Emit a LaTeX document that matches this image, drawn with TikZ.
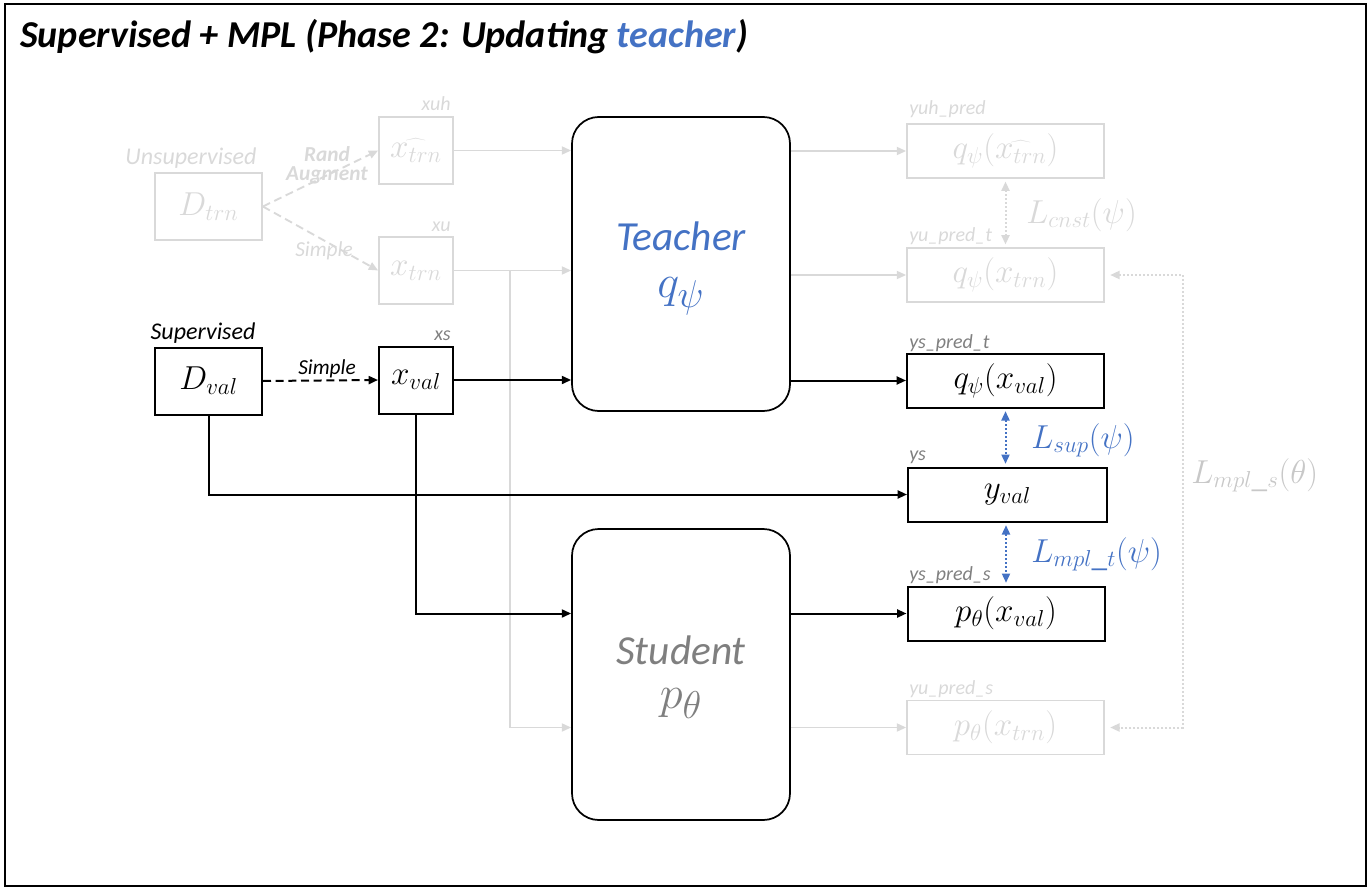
\documentclass[tikz,border=0pt]{standalone}
\usepackage{graphicx}
\usepackage[no-math]{fontspec}
\setmainfont{Carlito}
\usetikzlibrary{arrows.meta}
\definecolor{lg}{HTML}{D9D9D9}
\definecolor{mg}{HTML}{808080}
\definecolor{bl}{HTML}{4472C4}
\definecolor{lossg}{HTML}{C8C8C8}
\definecolor{stg}{HTML}{7F7F7F}
\begin{document}
\begin{tikzpicture}[x=0.75pt,y=-0.75pt,
  tip/.tip={Triangle[length=7pt,width=6pt]},
  mfont/.style={font=\fontsize{23.5}{28}\selectfont},
  gbox/.style={draw=lg, line width=1.3pt, text=lg, mfont, inner sep=0pt},
  bbox/.style={draw=black, line width=1.5pt, text=black, mfont, inner sep=0pt},
  dsz/.style={minimum width=80.25pt, minimum height=50.25pt},
  xsz/.style={minimum width=55.5pt, minimum height=50.25pt},
  rsz/.style={minimum width=147.75pt, minimum height=40.5pt},
  model/.style={draw=black, line width=1.3pt, rounded corners=20pt, minimum width=163.5pt, inner sep=0pt},
  mname/.style={anchor=base, inner sep=0pt, font=\fontsize{31}{36}\selectfont\itshape},
  msym/.style={anchor=base, inner sep=0pt, font=\fontsize{24.88}{30}\selectfont},
  garrow/.style={draw=lg, line width=1.4pt, -tip},
  barrow/.style={draw=black, line width=1.5pt, -tip},
  dotarrow/.style={line width=1.5pt, dash pattern=on 1.5pt off 1.5pt, tip-tip, shorten <=2pt, shorten >=2pt},
  smalllab/.style={font=\fontsize{15}{18}\selectfont\itshape, inner sep=0pt},
  grouplab/.style={font=\fontsize{18}{21}\selectfont\itshape, inner sep=0pt},
  arrlab/.style={font=\fontsize{16}{18}\selectfont\itshape, inner sep=0pt},
  losslab/.style={mfont, anchor=base west, inner sep=0pt}
]
\useasboundingbox (0,0) rectangle (1370,888);
\draw[line width=1.5pt] (4.5,4.5) rectangle (1365.5,885.5);
\node[anchor=base west, inner sep=0pt, font=\fontsize{28.5}{32}\selectfont\bfseries\itshape] (title) at (20,48) {Supervised + MPL (Phase 2: Updating \textcolor{bl}{teacher})};

% left data boxes
\node[gbox, dsz] (dtrn) at (208.5,206.5) {$D_{trn}$};
\node[bbox, dsz] (dval) at (208.5,381) {$D_{val}$};
\node[grouplab, text=lg, anchor=base] (unsup) at (191,165) {Unsupervised};
\node[grouplab, text=black, anchor=base] (sup) at (203,339) {Supervised};

\node[gbox, xsz] (xuh) at (416,150.5) {$\widehat{x_{trn}}$};
\node[gbox, xsz] (xu) at (416,270.5) {$x_{trn}$};
\node[bbox, xsz] (xs) at (416,380) {$x_{val}$};
\node[smalllab, text=lg, anchor=base east] (lxuh) at (451,111) {xuh};
\node[smalllab, text=lg, anchor=base east] (lxu) at (451,231) {xu};
\node[smalllab, text=mg, anchor=base east] (lxs) at (451,340) {xs};

% models
\node[model, minimum height=220.5pt] (teacher) at (681,264) {};
\node[model, minimum height=218.25pt] (student) at (681,674.5) {};
\node[mname, text=bl] (tname) at (681,250) {Teacher};
\node[msym, text=bl] (tsym) at (681,297) {\scalebox{1.4}{$q_\psi$}};
\node[mname, text=stg] (sname) at (681,664) {Student};
\node[msym, text=stg] (ssym) at (681,708) {\scalebox{1.4}{$p_\theta$}};

% right boxes
\node[gbox, rsz] (yuh) at (1005.5,151) {$q_\psi(\widehat{x_{trn}})$};
\node[gbox, rsz] (yut) at (1005.5,275) {$q_\psi(x_{trn})$};
\node[bbox, rsz] (yst) at (1005.5,380.5) {$q_\psi(x_{val})$};
\node[bbox, rsz, minimum width=149.25pt] (ys) at (1007.5,494.5) {$y_{val}$};
\node[bbox, rsz] (yss) at (1006,613.5) {$p_\theta(x_{val})$};
\node[gbox, rsz] (yups) at (1005.5,727.5) {$p_\theta(x_{trn})$};

\node[smalllab, text=lg, anchor=base west] (lyuh) at (909,115) {yuh\_pred};
\node[smalllab, text=lg, anchor=base west] (lyut) at (909,241) {yu\_pred\_t};
\node[smalllab, text=mg, anchor=base west] (lyst) at (909,348) {ys\_pred\_t};
\node[smalllab, text=mg, anchor=base west] (lys) at (909,460) {ys};
\node[smalllab, text=mg, anchor=base west] (lyss) at (909,580) {ys\_pred\_s};
\node[smalllab, text=lg, anchor=base west] (lyups) at (909,694) {yu\_pred\_s};

% dashed augment arrows
\draw[garrow, dash pattern=on 6pt off 3.5pt] (dtrn.east) -- (xuh.west);
\draw[garrow, dash pattern=on 6pt off 3.5pt] (dtrn.east) -- (xu.west);
\draw[barrow, dash pattern=on 6pt off 3.5pt] (dval.east) -- (xs.west);
\node[align=center, text=lg, inner sep=0pt, font=\fontsize{16}{14}\selectfont\bfseries\itshape] (rand) at (327,165) {Rand\\Augment};
\node[arrlab, text=lg] (simpleu) at (324,251) {Simple};
\node[arrlab, text=black] (simples) at (327,369) {Simple};

% inputs to models
\draw[garrow] (xuh.east) -- (xuh.east -| teacher.west);
\draw[garrow] (xu.east) -- (xu.east -| teacher.west);
\coordinate (br) at (510,270.5);
\draw[garrow] (br) |- (student.west |- yups.west);
\draw[barrow] (xs.east) -- (xs.east -| teacher.west);
\draw[barrow] (xs.south) |- (student.west |- yss.west);
\draw[barrow] (dval.south) |- (ys.west);

% model outputs
\draw[garrow] (teacher.east |- yuh.west) -- (yuh.west);
\draw[garrow] (teacher.east |- yut.west) -- (yut.west);
\draw[barrow] (teacher.east |- yst.west) -- (yst.west);
\draw[barrow] (student.east |- yss.west) -- (yss.west);
\draw[garrow] (student.east |- yups.west) -- (yups.west);

% losses
\draw[dotarrow, draw=lg] (yuh.south) -- (yut.north);
\draw[dotarrow, draw=bl] (yst.south) -- (yst.south |- ys.north);
\draw[dotarrow, draw=bl] (yss.north |- ys.south) -- (yss.north);
\coordinate (loopx) at (1183,0);
\draw[dotarrow, draw=lg, shorten <=4pt, shorten >=4pt] (yut.east) -- (yut.east -| loopx) -- (yups.east -| loopx) -- (yups.east);

\node[losslab, text=lg] (lcnst) at (1026,223) {$L_{cnst}(\psi)$};
\node[losslab, text=bl] (lsup) at (1031,448) {$L_{sup}(\psi)$};
\node[losslab, text=bl] (lmplt) at (1031,562) {$L_{mpl\_t}(\psi)$};
\node[losslab, text=lossg] (lmpls) at (1191,483) {$L_{mpl\_s}(\theta)$};
\end{tikzpicture}
\end{document}
